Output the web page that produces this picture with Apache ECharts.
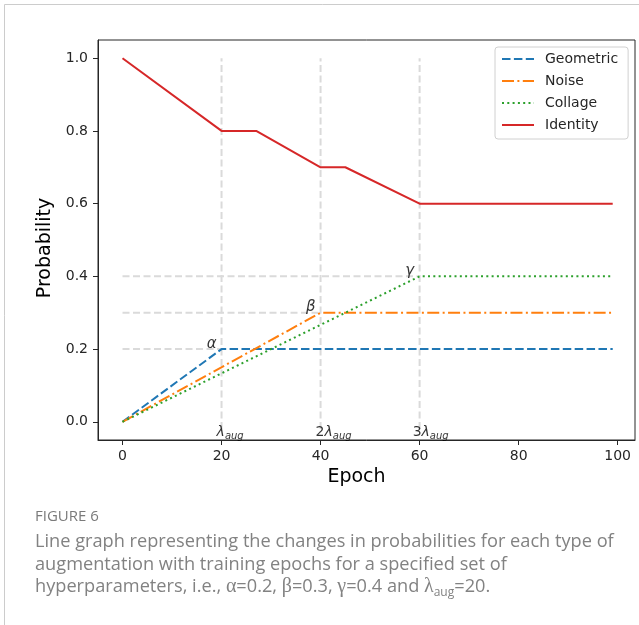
<!DOCTYPE html>
<html><head><meta charset="utf-8">
<script src="https://cdn.jsdelivr.net/npm/echarts@6/dist/echarts.min.js"></script>
<style>html,body{margin:0;padding:0;background:#fff}#c{width:639px;height:625px}</style>
</head><body><div id="c"></div>
<script>
// ---- data ----
const seriesNames = ['Geometric', 'Noise', 'Collage', 'Identity'];
const geometricX = [0, 20, 99];
const geometricY = [0, 0.2, 0.2];
const noiseX = [0, 40, 99];
const noiseY = [0, 0.3, 0.3];
const collageX = [0, 60, 99];
const collageY = [0, 0.4, 0.4];
const identityX = [0, 20, 27, 40, 45, 60, 99];
const identityY = [1.0, 0.8, 0.8, 0.7, 0.7, 0.6, 0.6];
const lambdaX = [20, 40, 60];            // vertical guides
const guideBottom = -0.02, guideTop = 1.0;
const hyperY = [0.2, 0.3, 0.4];          // horizontal guides (alpha, beta, gamma)
const greekLabels = ['α', 'β', 'γ'];
const greekX = [18, 38, 58];
const greekY = [0.215, 0.315, 0.415];
const lambdaLabels = ['', '2', '3'];
const lambdaLabelX = [19, 39, 58.6];
const lambdaLabelY = -0.028;
const xTicks = [0, 20, 40, 60, 80, 100];
const yTicks = [0, 0.2, 0.4, 0.6, 0.8, 1.0];
const captionTitle = 'FIGURE 6';
const captionLines = [
  'Line graph representing the changes in probabilities for each type of',
  'augmentation with training epochs for a specified set of',
  'hyperparameters, i.e., {g|α}=0.2, {g|β}=0.3, {g|γ}=0.4 and {g|λ}{sub|aug}=20.'
];

const zip = (xs, ys) => xs.map((x, i) => [x, ys[i]]);
const colors = ['#1f77b4', '#ff7f0e', '#2ca02c', '#d62728'];
const dashes = [[8.5, 3.4], [12, 3.4, 2, 3.4], [2, 3.3], 'solid'];
const seriesData = [zip(geometricX, geometricY), zip(noiseX, noiseY), zip(collageX, collageY), zip(identityX, identityY)];
const FONT = 'DejaVu Sans';
const guideStyle = { color: '#dadada', width: 2, type: [7, 3.5] };

const series = [];
lambdaX.forEach((x, i) => series.push({
  type: 'line', silent: true, symbol: 'none', z: 1,
  data: [[x, guideBottom], [x, guideTop]], lineStyle: guideStyle
}));
hyperY.forEach((y, i) => series.push({
  type: 'line', silent: true, symbol: 'none', z: 1,
  data: [[0, y], [lambdaX[i], y]], lineStyle: guideStyle
}));
seriesNames.forEach((n, i) => series.push({
  name: n, type: 'line', symbol: 'none', z: 3 + i,
  data: seriesData[i], color: colors[i],
  lineStyle: { color: colors[i], width: 2, type: dashes[i] }
}));
series.push({
  type: 'scatter', symbolSize: 0, silent: true, z: 10,
  data: greekLabels.map((t, i) => ({ value: [greekX[i], greekY[i]], name: t })),
  label: { show: true, position: 'inside', formatter: p => p.name,
    fontFamily: FONT, fontStyle: 'italic', fontSize: 15, color: '#000' }
});
series.push({
  type: 'scatter', symbolSize: 0, silent: true, z: 10,
  data: lambdaLabels.map((t, i) => ({ value: [lambdaLabelX[i], lambdaLabelY], name: t })),
  label: { show: true, position: 'inside', align: 'left',
    formatter: p => (p.name ? '{n|' + p.name + '}' : '') + '{l|λ}{s|aug}',
    rich: {
      n: { fontFamily: FONT, fontSize: 14, color: '#000', lineHeight: 18 },
      l: { fontFamily: FONT, fontStyle: 'italic', fontSize: 14, color: '#000', lineHeight: 18 },
      s: { fontFamily: FONT, fontStyle: 'italic', fontSize: 10, color: '#000', lineHeight: 10, verticalAlign: 'bottom' }
    } }
});

const axisCommon = {
  type: 'value', splitLine: { show: false },
  axisLine: { show: true, onZero: false, lineStyle: { color: '#262626', width: 1 } }
};

const capStyle = { fontFamily: 'Open Sans', fontSize: 18.2, fill: '#828282' };
const graphic = [
  { type: 'rect', silent: true, z: -10, shape: { x: 4.5, y: 4.5, width: 900, height: 900 },
    style: { fill: 'none', stroke: '#cccccc', lineWidth: 1 } },
  { type: 'text', left: 35, top: 509, style: { text: captionTitle, fontFamily: 'Open Sans', fontSize: 15, fill: '#7a7a7a' } }
];
captionLines.forEach((t, i) => graphic.push({
  type: 'text', left: 35, top: 530 + i * 22.5,
  style: Object.assign({ text: t, lineHeight: 24,
    rich: {
      g: { fontFamily: 'Liberation Serif', fontSize: 20, fill: '#828282', lineHeight: 24 },
      sub: { fontFamily: 'Open Sans', fontSize: 12, fill: '#828282', lineHeight: 12, verticalAlign: 'bottom' }
    } }, capStyle)
}));

const chart = echarts.init(document.getElementById('c'), null, { renderer: 'canvas' });
chart.setOption({
  animation: false,
  backgroundColor: '#fff',
  grid: { left: 98, top: 40, right: 4, bottom: 185, show: true, borderColor: '#262626', borderWidth: 1 },
  legend: {
    orient: 'vertical', left: 495, top: 47, data: seriesNames,
    itemWidth: 32, itemHeight: 14, itemGap: 8, padding: [5, 10, 7, 6],
    itemStyle: { opacity: 0 },
    borderColor: '#d0d0d0', borderWidth: 1, borderRadius: 3, backgroundColor: 'rgba(255,255,255,0.85)',
    textStyle: { fontFamily: FONT, fontSize: 14, color: '#262626', padding: [0, 0, 0, 6] }
  },
  xAxis: Object.assign({}, axisCommon, {
    min: -4.95, max: 103.5,
    axisTick: { show: true, customValues: xTicks, length: 5, lineStyle: { color: '#262626' } },
    axisLabel: { customValues: xTicks, fontFamily: FONT, fontSize: 14, color: '#262626', margin: 9 },
    name: 'Epoch', nameLocation: 'middle', nameGap: 22,
    nameTextStyle: { fontFamily: FONT, fontSize: 19, color: '#000', padding: [0, 20, 0, 0] }
  }),
  yAxis: Object.assign({}, axisCommon, {
    min: -0.05, max: 1.05,
    axisTick: { show: true, customValues: yTicks, length: 5, lineStyle: { color: '#262626' } },
    axisLabel: { customValues: yTicks, fontFamily: FONT, fontSize: 14, color: '#262626', margin: 10,
      formatter: v => Number(v).toFixed(1) },
    name: 'Probability', nameLocation: 'middle', nameGap: 40,
    nameTextStyle: { fontFamily: FONT, fontSize: 19, color: '#000', padding: [0, 16, 0, 0] }
  }),
  series: series,
  graphic: graphic
});
</script></body></html>
